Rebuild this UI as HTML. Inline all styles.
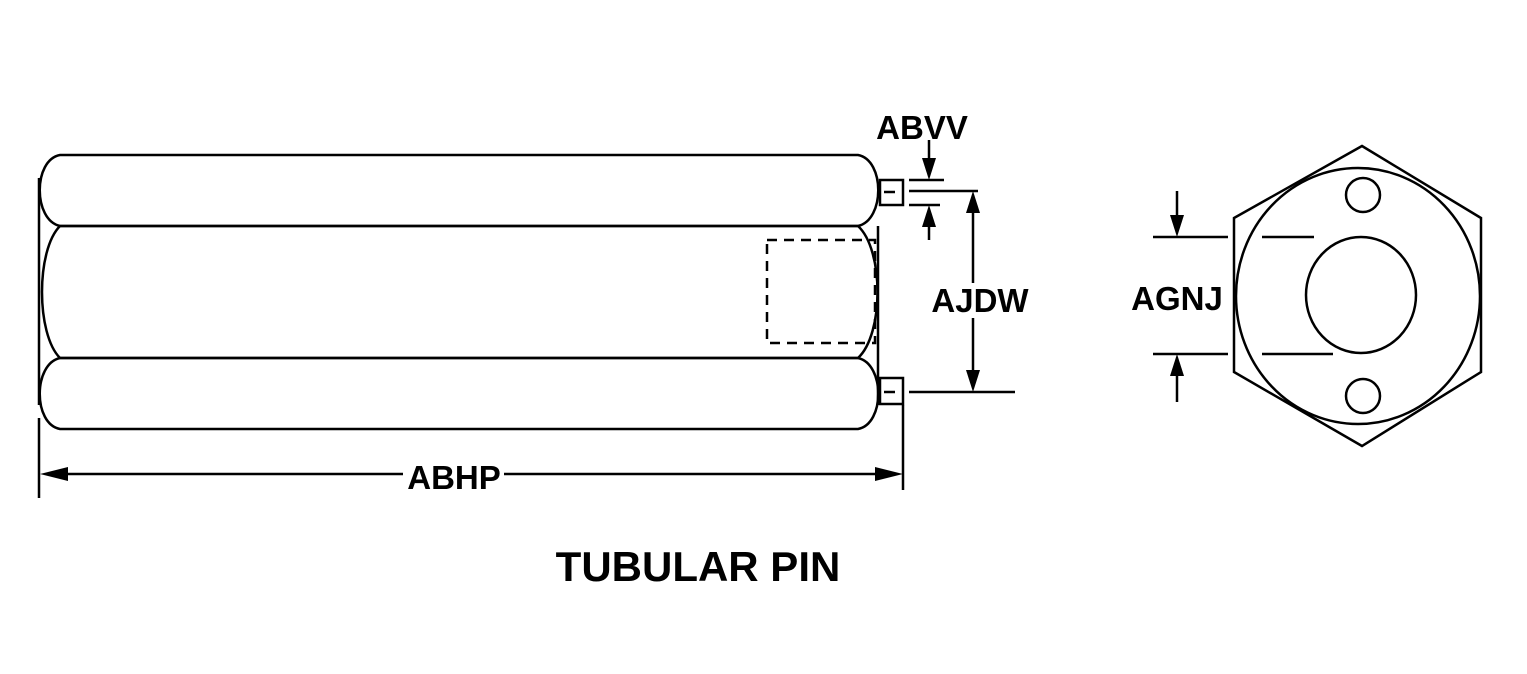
<!DOCTYPE html>
<html><head><style>html,body{margin:0;padding:0;background:#fff}svg{display:block}</style></head>
<body>
<svg width="1527" height="674" viewBox="0 0 1527 674" xmlns="http://www.w3.org/2000/svg">
<g fill="none" stroke="#000" stroke-width="2.5">
<path d="M60,155 H858 C885,160 885,220 858,226 H60 C33,220 33,160 60,155 Z"/>
<path d="M60,226 H858 C884,250 884,334 858,358 H60 C36,334 36,250 60,226 Z"/>
<path d="M60,358 H858 C885,364 885,424 858,429 H60 C33,424 33,364 60,358 Z"/>
<line x1="39" y1="178" x2="39" y2="405"/>
<line x1="878" y1="226" x2="878" y2="405"/>
<rect x="880" y="180" width="23" height="25"/>
<rect x="880" y="378" width="23" height="26"/>
<line x1="884" y1="192" x2="895" y2="192"/>
<line x1="884" y1="392" x2="895" y2="392"/>
<rect x="767" y="240" width="108" height="103" stroke-dasharray="10,7"/>
<line x1="909" y1="180" x2="944" y2="180"/>
<line x1="909" y1="191" x2="978" y2="191"/>
<line x1="909" y1="205" x2="940" y2="205"/>
<line x1="929" y1="140" x2="929" y2="170"/>
<line x1="929" y1="215" x2="929" y2="240"/>
<line x1="973" y1="210" x2="973" y2="283"/>
<line x1="973" y1="318" x2="973" y2="375"/>
<line x1="909" y1="392" x2="1015" y2="392"/>
<line x1="39" y1="418" x2="39" y2="498"/>
<line x1="903" y1="405" x2="903" y2="490"/>
<line x1="60" y1="474" x2="403" y2="474"/>
<line x1="504" y1="474" x2="882" y2="474"/>
<polygon points="1362,146 1481,218 1481,372 1362,446 1234,372 1234,218"/>
<ellipse cx="1358" cy="296" rx="122" ry="128"/>
<ellipse cx="1361" cy="295" rx="55" ry="58"/>
<circle cx="1363" cy="195" r="17"/>
<circle cx="1363" cy="396" r="17"/>
<line x1="1153" y1="237" x2="1228" y2="237"/>
<line x1="1262" y1="237" x2="1314" y2="237"/>
<line x1="1153" y1="354" x2="1228" y2="354"/>
<line x1="1262" y1="354" x2="1333" y2="354"/>
<line x1="1177" y1="191" x2="1177" y2="220"/>
<line x1="1177" y1="370" x2="1177" y2="402"/>
</g>
<g fill="#000">
<polygon points="922,158 936,158 929,180"/>
<polygon points="922,227 936,227 929,205"/>
<polygon points="966,213 980,213 973,191"/>
<polygon points="966,370 980,370 973,392"/>
<polygon points="40,474 68,467 68,481"/>
<polygon points="903,474 875,467 875,481"/>
<polygon points="1170,215 1184,215 1177,237"/>
<polygon points="1170,376 1184,376 1177,354"/>
</g>
<g font-family="Liberation Sans, sans-serif" font-weight="bold" fill="#000">
<text x="922" y="139" font-size="33" text-anchor="middle">ABVV</text>
<text x="980" y="312" font-size="33" text-anchor="middle">AJDW</text>
<text x="454" y="489" font-size="33" text-anchor="middle">ABHP</text>
<text x="1177" y="310" font-size="33" text-anchor="middle">AGNJ</text>
<text x="698" y="581" font-size="42" text-anchor="middle">TUBULAR PIN</text>
</g>
</svg>
</body></html>
